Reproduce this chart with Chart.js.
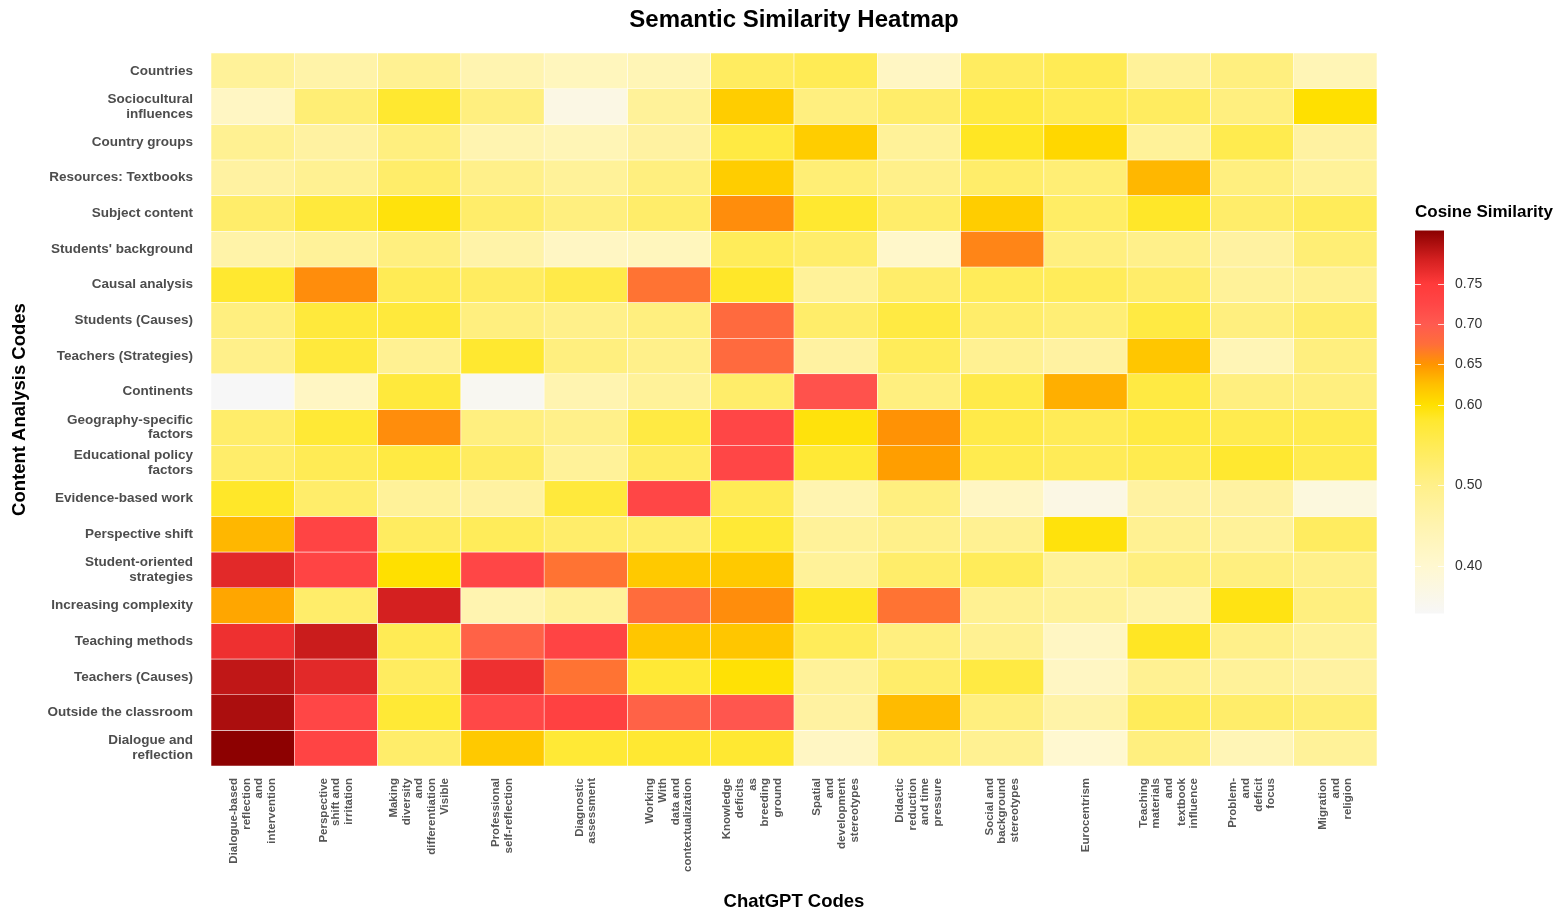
<!DOCTYPE html>
<html>
<head>
<meta charset="utf-8">
<title>Semantic Similarity Heatmap</title>
<script src="https://cdn.jsdelivr.net/npm/chart.js@4.4.1/dist/chart.umd.min.js"></script>
<style>
  html, body { margin: 0; padding: 0; background: #fff; }
  #wrap { position: relative; width: 1566px; height: 918px; }
  #heatmap { position: absolute; left: 0; top: 0; }
  #colorbar { position: absolute; left: 1405px; top: 195px; }
</style>
</head>
<body>
<div id="wrap">
  <canvas id="heatmap" width="1566" height="918"></canvas>
  <canvas id="colorbar" width="161" height="438"></canvas>
</div>
<script>
// rows (top to bottom)
const rowLabels = [
  'Countries',
  ['Sociocultural', 'influences'],
  'Country groups',
  'Resources: Textbooks',
  'Subject content',
  "Students' background",
  'Causal analysis',
  'Students (Causes)',
  'Teachers (Strategies)',
  'Continents',
  ['Geography-specific', 'factors'],
  ['Educational policy', 'factors'],
  'Evidence-based work',
  'Perspective shift',
  ['Student-oriented', 'strategies'],
  'Increasing complexity',
  'Teaching methods',
  'Teachers (Causes)',
  'Outside the classroom',
  ['Dialogue and', 'reflection']
];

// columns (left to right)
const colLabels = [
  ['Dialogue-based', 'reflection', 'and', 'intervention'],
  ['Perspective', 'shift and', 'irritation'],
  ['Making', 'diversity', 'and', 'differentiation', 'Visible'],
  ['Professional', 'self-reflection'],
  ['Diagnostic', 'assessment'],
  ['Working', 'With', 'data and', 'contextualization'],
  ['Knowledge', 'deficits', 'as', 'breeding', 'ground'],
  ['Spatial', 'and', 'development', 'stereotypes'],
  ['Didactic', 'reduction', 'and time', 'pressure'],
  ['Social and', 'background', 'stereotypes'],
  ['Eurocentrism'],
  ['Teaching', 'materials', 'and', 'textbook', 'influence'],
  ['Problem-', 'and', 'deficit', 'focus'],
  ['Migration', 'and', 'religion']
];

// cosine similarity, one array per row
const similarity = [
  [0.48, 0.46, 0.49, 0.45, 0.43, 0.44, 0.54, 0.55, 0.42, 0.54, 0.55, 0.48, 0.51, 0.44],
  [0.42, 0.52, 0.58, 0.51, 0.37, 0.48, 0.615, 0.51, 0.53, 0.565, 0.55, 0.54, 0.51, 0.60],
  [0.49, 0.47, 0.51, 0.45, 0.44, 0.47, 0.565, 0.615, 0.48, 0.585, 0.607, 0.48, 0.555, 0.47],
  [0.47, 0.49, 0.53, 0.50, 0.48, 0.51, 0.615, 0.52, 0.50, 0.53, 0.52, 0.63, 0.51, 0.48],
  [0.53, 0.57, 0.595, 0.53, 0.51, 0.53, 0.655, 0.58, 0.53, 0.615, 0.535, 0.583, 0.53, 0.545],
  [0.46, 0.48, 0.51, 0.46, 0.42, 0.43, 0.545, 0.53, 0.41, 0.66, 0.51, 0.50, 0.47, 0.52],
  [0.58, 0.655, 0.55, 0.54, 0.56, 0.672, 0.583, 0.48, 0.53, 0.545, 0.545, 0.53, 0.48, 0.49],
  [0.51, 0.57, 0.57, 0.51, 0.50, 0.51, 0.68, 0.53, 0.565, 0.53, 0.52, 0.565, 0.51, 0.53],
  [0.50, 0.57, 0.49, 0.58, 0.51, 0.50, 0.68, 0.47, 0.545, 0.49, 0.47, 0.62, 0.44, 0.51],
  [0.34, 0.42, 0.57, 0.35, 0.45, 0.48, 0.53, 0.71, 0.51, 0.56, 0.635, 0.565, 0.51, 0.51],
  [0.53, 0.575, 0.655, 0.51, 0.50, 0.565, 0.725, 0.595, 0.652, 0.56, 0.548, 0.565, 0.555, 0.555],
  [0.53, 0.55, 0.565, 0.54, 0.48, 0.54, 0.725, 0.575, 0.645, 0.555, 0.548, 0.555, 0.58, 0.555],
  [0.583, 0.53, 0.48, 0.47, 0.57, 0.725, 0.55, 0.45, 0.51, 0.42, 0.37, 0.47, 0.47, 0.38],
  [0.63, 0.73, 0.54, 0.545, 0.53, 0.53, 0.575, 0.48, 0.50, 0.49, 0.595, 0.49, 0.48, 0.54],
  [0.77, 0.73, 0.60, 0.725, 0.672, 0.618, 0.618, 0.48, 0.53, 0.545, 0.48, 0.51, 0.51, 0.50],
  [0.64, 0.53, 0.78, 0.45, 0.48, 0.677, 0.655, 0.585, 0.672, 0.49, 0.48, 0.46, 0.592, 0.51],
  [0.762, 0.785, 0.55, 0.69, 0.73, 0.62, 0.62, 0.545, 0.51, 0.49, 0.42, 0.585, 0.50, 0.48],
  [0.79, 0.77, 0.54, 0.762, 0.672, 0.575, 0.598, 0.48, 0.53, 0.565, 0.42, 0.49, 0.48, 0.47],
  [0.80, 0.725, 0.575, 0.722, 0.735, 0.69, 0.705, 0.47, 0.628, 0.51, 0.46, 0.545, 0.53, 0.52],
  [0.815, 0.73, 0.53, 0.618, 0.575, 0.578, 0.578, 0.42, 0.51, 0.49, 0.40, 0.51, 0.44, 0.48]
];

// colour bar range and breaks
const scaleMin = 0.341;
const scaleMax = 0.816;
const scaleBreaks = [0.40, 0.50, 0.60, 0.65, 0.70, 0.75];

const colorStops = [
  [0.341, '#f7f7f7'], [0.40, '#fff8d0'], [0.45, '#fff4b0'], [0.50, '#fff08a'],
  [0.55, '#ffeb55'], [0.58, '#ffe830'], [0.60, '#ffe000'], [0.625, '#ffc000'],
  [0.65, '#ff9500'], [0.675, '#ff6e3a'], [0.70, '#ff5a50'], [0.725, '#ff4646'],
  [0.75, '#ff3a3a'], [0.78, '#d42020'], [0.816, '#8b0000']
];

function hexToRgb(h) {
  const n = parseInt(h.slice(1), 16);
  return [(n >> 16) & 255, (n >> 8) & 255, n & 255];
}

function colorFor(v) {
  if (v <= colorStops[0][0]) return colorStops[0][1];
  for (let i = 1; i < colorStops.length; i++) {
    const [v1, c1] = colorStops[i];
    if (v <= v1) {
      const [v0, c0] = colorStops[i - 1];
      const t = (v - v0) / (v1 - v0);
      const a = hexToRgb(c0), b = hexToRgb(c1);
      const m = a.map((x, k) => Math.round(x + (b[k] - x) * t));
      return `rgb(${m[0]}, ${m[1]}, ${m[2]})`;
    }
  }
  return colorStops[colorStops.length - 1][1];
}

Chart.defaults.font.family = '"Liberation Sans", Arial, Helvetica, sans-serif';
Chart.defaults.animation = false;

const xLineHeight = 12.6;

const titlePlugin = {
  id: 'centerTitle',
  afterDraw(chart) {
    const { ctx, chartArea } = chart;
    ctx.save();
    ctx.font = 'bold 24px "Liberation Sans", Arial, sans-serif';
    ctx.fillStyle = '#000';
    ctx.textAlign = 'center';
    ctx.textBaseline = 'middle';
    ctx.fillText('Semantic Similarity Heatmap', (chartArea.left + chartArea.right) / 2, 20);
    ctx.restore();
  }
};

new Chart(document.getElementById('heatmap'), {
  type: 'bar',
  data: {
    labels: colLabels.map((l) => l.join(' ')),
    datasets: similarity.map((row, r) => ({
      label: Array.isArray(rowLabels[r]) ? rowLabels[r].join(' ') : rowLabels[r],
      data: row.map(() => 1),
      backgroundColor: row.map(colorFor),
      borderColor: 'rgba(255, 255, 255, 0.85)',
      borderWidth: 0.6,
      borderSkipped: false,
      categoryPercentage: 1,
      barPercentage: 1,
      xAxisID: 'x',
      yAxisID: 'y'
    }))
  },
  options: {
    responsive: false,
    layout: { padding: { top: 53, right: 189, bottom: 0, left: 0 } },
    plugins: {
      legend: { display: false },
      tooltip: {
        callbacks: {
          label: (c) => `${c.dataset.label}: ${similarity[c.datasetIndex][c.dataIndex].toFixed(3)}`
        }
      }
    },
    scales: {
      x: { type: 'category', stacked: true, display: false },
      x2: {
        type: 'linear',
        position: 'bottom',
        offset: false,
        min: 0,
        max: colLabels.length,
        afterBuildTicks: (scale) => {
          const unit = (scale.width || 1166) / colLabels.length;
          scale.ticks = colLabels.map((l, i) => ({
            value: i + 0.5 - ((l.length - 1) * xLineHeight / 2) / unit
          }));
        },
        afterFit: (scale) => { scale.height = 152; },
        ticks: {
          autoSkip: false,
          minRotation: 90,
          maxRotation: 90,
          padding: 12,
          color: '#555',
          font: { size: 11.5, weight: 'bold', lineHeight: xLineHeight / 11.5 },
          callback: (v, i) => colLabels[i]
        },
        grid: { display: false, drawTicks: false },
        border: { display: false },
        title: {
          display: true,
          text: 'ChatGPT Codes',
          color: '#000',
          font: { size: 18.5, weight: 'bold' },
          padding: { bottom: 5 }
        }
      },
      y: {
        type: 'linear',
        stacked: true,
        min: 0,
        max: rowLabels.length,
        reverse: true,
        afterBuildTicks: (scale) => {
          scale.ticks = rowLabels.map((_, i) => ({ value: i + 0.5 }));
        },
        afterFit: (scale) => { scale.width = 211; },
        ticks: {
          autoSkip: false,
          padding: 18,
          color: '#4d4d4d',
          font: { size: 13.5, weight: 'bold', lineHeight: 1.1 },
          callback: (v, i) => rowLabels[i]
        },
        grid: { display: false, drawTicks: false },
        border: { display: false },
        title: {
          display: true,
          text: 'Content Analysis Codes',
          color: '#000',
          font: { size: 18.5, weight: 'bold' },
          padding: { top: 9 }
        }
      }
    }
  },
  plugins: [titlePlugin]
});

// colour bar legend
const barTicksPlugin = {
  id: 'barTicks',
  afterDatasetsDraw(chart) {
    const { ctx, chartArea, scales } = chart;
    ctx.save();
    ctx.strokeStyle = 'rgba(255, 255, 255, 0.8)';
    ctx.lineWidth = 1;
    scaleBreaks.forEach((b) => {
      const y = Math.round(scales.y.getPixelForValue(b)) + 0.5;
      ctx.beginPath();
      ctx.moveTo(chartArea.left, y);
      ctx.lineTo(chartArea.left + 6, y);
      ctx.moveTo(chartArea.right - 6, y);
      ctx.lineTo(chartArea.right, y);
      ctx.stroke();
    });
    ctx.restore();
  }
};

new Chart(document.getElementById('colorbar'), {
  type: 'bar',
  data: {
    labels: ['Cosine Similarity'],
    datasets: [{
      data: [[scaleMin, scaleMax]],
      borderWidth: 0,
      categoryPercentage: 1,
      barPercentage: 1,
      backgroundColor: (c) => {
        const chart = c.chart;
        if (!chart.chartArea) return '#ffe000';
        const y = chart.scales.y;
        const g = chart.ctx.createLinearGradient(0, y.getPixelForValue(scaleMin), 0, y.getPixelForValue(scaleMax));
        colorStops.forEach(([v, col]) => g.addColorStop((v - scaleMin) / (scaleMax - scaleMin), col));
        return g;
      }
    }]
  },
  options: {
    responsive: false,
    layout: { padding: { top: 0, right: 0, bottom: 0, left: 10 } },
    plugins: {
      legend: { display: false },
      tooltip: { enabled: false },
      title: {
        display: true,
        text: 'Cosine Similarity',
        align: 'start',
        color: '#000',
        font: { size: 17, weight: 'bold' },
        padding: { top: 7, bottom: 8 }
      }
    },
    scales: {
      x: { display: false },
      y: {
        position: 'right',
        min: scaleMin,
        max: scaleMax,
        afterBuildTicks: (scale) => {
          scale.ticks = scaleBreaks.map((v) => ({ value: v }));
        },
        afterFit: (scale) => { scale.width = 122; },
        ticks: {
          padding: 11,
          color: '#333',
          font: { size: 14 },
          callback: (v) => Number(v).toFixed(2)
        },
        grid: { display: false, drawTicks: false },
        border: { display: false }
      }
    }
  },
  plugins: [barTicksPlugin]
});
</script>
</body>
</html>
